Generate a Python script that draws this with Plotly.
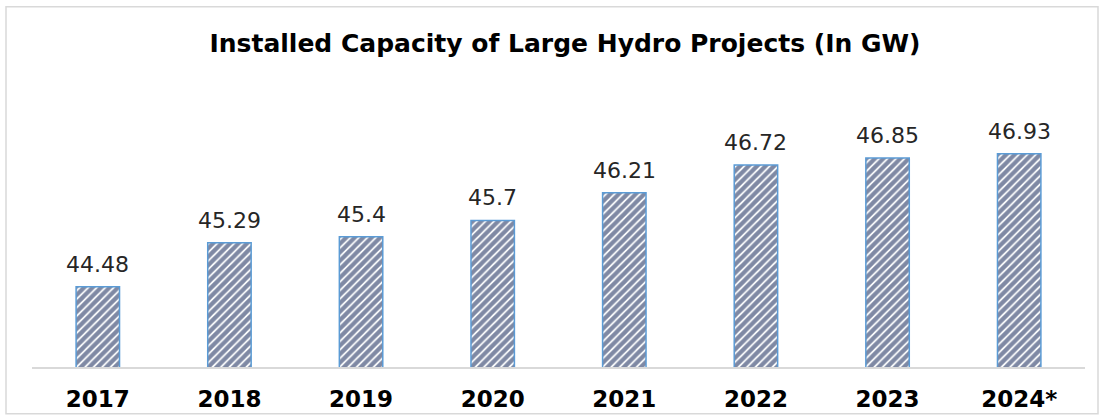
import plotly.graph_objects as go

years = ["2017", "2018", "2019", "2020", "2021", "2022", "2023", "2024*"]
capacity = [44.48, 45.29, 45.4, 45.7, 46.21, 46.72, 46.85, 46.93]
labels = ["44.48", "45.29", "45.4", "45.7", "46.21", "46.72", "46.85", "46.93"]

W, H0 = 1099, 416
f = 1.02  # vertical calibration
H = round(H0 * f)
ml, mr = 32, 14
mt, mb = round(100 * f), round(49 * f)
plot_w = W - ml - mr
plot_h = H - mt - mb
ymin = 43.0
ymax = ymin + (267) / 54.7

pos = list(range(len(years)))

fig = go.Figure()
fig.add_trace(go.Bar(
    x=pos, y=capacity, width=0.33,
    marker=dict(
        color="white",
        line=dict(color="#5b9bd5", width=1.5),
        pattern=dict(shape="/", fgcolor="#00134a", bgcolor="white", size=6, solidity=0.7),
    ),
    hoverinfo="skip",
))

for p, v, t in zip(pos, capacity, labels):
    fig.add_annotation(x=p, y=v, text=t, showarrow=False, yanchor="bottom", yshift=8,
                       xref="x", yref="y",
                       font=dict(family="DejaVu Sans", size=22, color="#262626"))

def px_x(p):
    return (p - ml) / plot_w

def px_y(p):
    return (367 - p) / 267

fig.add_shape(type="rect", xref="paper", yref="paper",
              x0=px_x(6), x1=px_x(1098), y0=px_y(414), y1=px_y(4),
              line=dict(color="#d9d9d9", width=1.5), fillcolor="rgba(0,0,0,0)", layer="below")

fig.update_layout(
    width=W, height=H, autosize=False,
    margin=dict(l=ml, r=mr, t=mt, b=mb),
    paper_bgcolor="white", plot_bgcolor="white",
    showlegend=False,
    title=dict(text="<b>Installed Capacity of Large Hydro Projects (In GW)</b>",
               x=565 / W, xref="container", y=1 - 42 / H0, yref="container",
               xanchor="center", yanchor="middle",
               font=dict(family="DejaVu Sans", size=25, color="#000000")),
    xaxis=dict(type="linear", range=[-0.5, len(years) - 0.5],
               tickmode="array", tickvals=pos, ticktext=years,
               showline=True, linecolor="#d9d9d9", linewidth=2, ticks="",
               tickfont=dict(family="DejaVu Sans", size=23, color="#000000", weight="bold"),
               ticklabelstandoff=10, showgrid=False, zeroline=False, fixedrange=True),
    yaxis=dict(range=[ymin, ymax], visible=False, showgrid=False, fixedrange=True),
)

fig.write_html("out.html",
               config={"displayModeBar": False, "responsive": False, "staticPlot": True},
               post_script="document.body.style.margin='0';document.body.style.overflow='hidden';")
